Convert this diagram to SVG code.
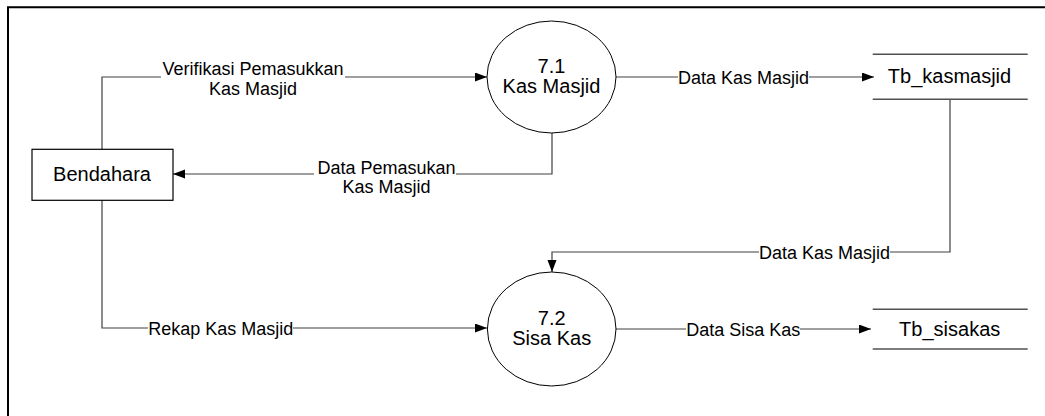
<svg xmlns="http://www.w3.org/2000/svg" width="1045" height="416" viewBox="0 0 1045 416">
<defs>
<marker id="arr" markerUnits="userSpaceOnUse" markerWidth="12" markerHeight="10" refX="12" refY="4.5" orient="auto">
<path d="M0,0 L12,4.5 L0,9 z" fill="#000"/>
</marker>
<style>
.node{font-family:"Liberation Sans",Arial,sans-serif;font-size:20px;fill:#000;text-anchor:middle}
.lbl{font-family:"Liberation Sans",Arial,sans-serif;font-size:18px;fill:#000;text-anchor:middle}
.flow{fill:none;stroke:#404040;stroke-width:1.2}
.bg{fill:#fff;stroke:none}
.proc{fill:#fff;stroke:#000;stroke-width:1}
.store{stroke:#505050;stroke-width:1.5}
</style>
</defs>
<rect width="1045" height="416" fill="#fff"/>
<path d="M8,418 V7.3 H1047" fill="none" stroke="#000" stroke-width="2"/>
<g id="connectors">
<path class="flow" d="M102,149 V77 H487" marker-end="url(#arr)"/>
<path class="flow" d="M552,133 V174 H173" marker-end="url(#arr)"/>
<path class="flow" d="M616,77 H874" marker-end="url(#arr)"/>
<path class="flow" d="M950,99 V252 H552 V272" marker-end="url(#arr)"/>
<path class="flow" d="M102,200 V328 H487" marker-end="url(#arr)"/>
<path class="flow" d="M616,329 H871" marker-end="url(#arr)"/>
<rect class="bg" x="161" y="58" width="184" height="42"/>
<text class="lbl" x="253" y="75">Verifikasi Pemasukkan</text>
<text class="lbl" x="253" y="95">Kas Masjid</text>
<rect class="bg" x="314" y="158" width="142" height="42"/>
<text class="lbl" x="386.5" y="173.5">Data Pemasukan</text>
<text class="lbl" x="386.5" y="193">Kas Masjid</text>
<rect class="bg" x="678" y="68" width="131" height="18"/>
<text class="lbl" x="743.5" y="83.5">Data Kas Masjid</text>
<rect class="bg" x="759" y="243" width="131" height="18"/>
<text class="lbl" x="824.5" y="258.5">Data Kas Masjid</text>
<rect class="bg" x="148" y="319" width="145" height="18"/>
<text class="lbl" x="220.8" y="334.5">Rekap Kas Masjid</text>
<rect class="bg" x="686" y="320" width="114" height="18"/>
<text class="lbl" x="743.3" y="335.5">Data Sisa Kas</text>
</g>
<g id="bendahara">
<rect x="32" y="149.3" width="141" height="51" fill="#fff" stroke="#000" stroke-width="1.2"/>
<text class="node" x="102" y="180.5">Bendahara</text>
</g>
<g id="p71">
<ellipse class="proc" cx="551.5" cy="77" rx="64.5" ry="56"/>
<text class="node" x="551.5" y="72.5">7.1</text>
<text class="node" x="551.5" y="93">Kas Masjid</text>
</g>
<g id="p72">
<ellipse class="proc" cx="551.7" cy="329" rx="64.3" ry="57"/>
<text class="node" x="551.7" y="324.5">7.2</text>
<text class="node" x="551.7" y="345">Sisa Kas</text>
</g>
<g id="tb_kasmasjid">
<line class="store" x1="872.7" y1="54.3" x2="1027.7" y2="54.3"/>
<line class="store" x1="872.7" y1="99.3" x2="1027.7" y2="99.3"/>
<text class="node" x="949.5" y="83">Tb_kasmasjid</text>
</g>
<g id="tb_sisakas">
<line class="store" x1="872.7" y1="309.3" x2="1027.7" y2="309.3"/>
<line class="store" x1="872.7" y1="349" x2="1027.7" y2="349"/>
<text class="node" x="949.7" y="336">Tb_sisakas</text>
</g>
</svg>
